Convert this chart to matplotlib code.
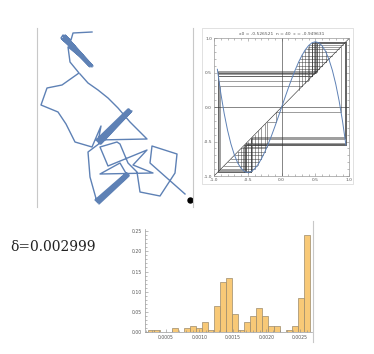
import numpy as np
import matplotlib
matplotlib.use("Agg")
import matplotlib.pyplot as plt
from matplotlib.ticker import MultipleLocator, FormatStrFormatter
from matplotlib.lines import Line2D
from matplotlib.patches import Rectangle

plt.rcParams["axes.unicode_minus"] = False

# ---------------- data ----------------
# walk (path panel); NaN splits the polyline
walk_x = [55, 36, 34, 26,
          24, 53, 26, 55, 25, 54, 28, 56, 27, 53, 29, 55, 26, 52, 28, 54,
          31, 33, 42, 25, 10, 4, 21, 29, 38, 55, 64,
          61, 93, 62, 94, 60, 92, 63, 94, 59, 91, 62, 93, 61, 92, 64, 95, 60,
          110, 93, 81, 71, 61, 51, 43, np.nan,
          67, 51, 53, 60,
          91, 61, 92, 59, 90, 62, 92, 58, 89, 61, 90,
          83, 63, 116, 96, 110, 71, 63, 80, 83, 91, 100, 103, 123, 138, 140, 115, 113, 148]
walk_y = [175, 174, 167, 172,
          169, 140, 171, 142, 168, 143, 172, 141, 170, 143, 171, 140, 169, 141, 170, 142,
          160, 145, 134, 122, 119, 102, 95, 83, 65, 60, 81,
          65, 97, 64, 96, 66, 98, 63, 95, 67, 98, 65, 96, 66, 97, 63, 96, 67,
          68, 85, 99, 109, 117, 124, 133, np.nan,
          67, 55, 30, 5,
          33, 4, 32, 6, 34, 3, 31, 7, 34, 5, 32,
          44, 33, 34, 42, 57, 41, 60, 65, 63, 44, 35, 15, 11, 34, 53, 61, 44, 13]
end_x, end_y = 153, 7

# cobweb: map title parameters and the orbit
x0_label = "x0 = -0.526521  n = 40  c = -0.949631"
curve_x = np.round(np.arange(-0.95, 0.951, 0.05), 2)
curve_left = [0.550, 0.205, -0.089, -0.334, -0.534, -0.691, -0.809, -0.889, -0.935, -0.950,
              -0.936, -0.896, -0.834, -0.752, -0.653, -0.539, -0.415, -0.281, -0.142]
curve_y = curve_left + [0.0] + [-v for v in curve_left[::-1]]

orbit = [-0.526521, -0.945555, 0.517434, 0.947878, -0.534584, -0.942661, 0.496324, 0.949555,
         -0.547006, -0.936646, 0.452938, 0.937406, -0.458374, -0.940030, 0.477252, 0.946729,
         -0.526108, -0.945681, 0.518401, 0.947678, -0.533106, -0.943248, 0.500596, 0.949631,
         -0.547568, -0.936329, 0.450677, 0.936222, -0.449911, -0.935813, 0.446993, 0.934186,
         -0.435415, -0.926886, 0.384188, 0.879112, -0.076267, -0.215591, -0.576132, -0.914928,
         0.302679]

hatch_x = [-0.65, -0.60, -0.55, -0.50, -0.45, -0.40, -0.35, -0.30, -0.25]
hatch_fx = [-0.809, -0.889, -0.935, -0.950, -0.936, -0.896, -0.834, -0.752, -0.653]
hatch_y = [-0.90, -0.85, -0.80, -0.75, -0.70, -0.65, -0.60, -0.55]
hatch_xr = [-0.403, -0.361, -0.328, -0.299, -0.273, -0.249, -0.226, -0.205]

# histogram
delta_text = "δ=0.002999"
bin_start = 0.0002365
bin_width = 0.0000893
probs = [0.005, 0.005, 0, 0, 0.01, 0, 0.01, 0.015, 0.01, 0.025, 0.005, 0.065, 0.125, 0.135,
         0.045, 0.005, 0.025, 0.04, 0.06, 0.04, 0.015, 0.015, 0, 0.005, 0.015, 0.085, 0.24]

BLUE = "#5E81B5"
W, H = 374, 354


def place(x0, y0, x1, y1):
    # pixel box -> figure fraction
    return [x0 / W, 1 - y1 / H, (x1 - x0) / W, (y1 - y0) / H]


fig = plt.figure(figsize=(W / 100, H / 100), dpi=100)

# ================= walk =================
ax1 = fig.add_axes(place(37, 28, 193, 207))
ax1.plot(walk_x, walk_y, color=BLUE, lw=1.0)
ax1.plot([end_x], [end_y], "o", color="black", ms=3.6, clip_on=False)
ax1.set_xlim(0, 156)
ax1.set_ylim(0, 179)
ax1.set_xticks([])
ax1.set_yticks([])
for s in ["top", "bottom"]:
    ax1.spines[s].set_visible(False)
for s in ["left", "right"]:
    ax1.spines[s].set_color("#c8c8c8")
    ax1.spines[s].set_linewidth(0.8)

# ================= cobweb =================
fig.add_artist(Rectangle((202 / W, 1 - 184 / H), 151 / W, 156 / H, transform=fig.transFigure,
                         fill=False, ec="#d4d4d4", lw=0.5))
ax2 = fig.add_axes(place(214, 38.3, 349.3, 176))
ax2.axhline(0, color="#555", lw=0.5)
ax2.axvline(0, color="#555", lw=0.5)
ax2.plot([-1, 1], [-1, 1], color="#222", lw=0.4)

lw_c = 0.45
web = dict(color="#333", lw=lw_c, alpha=0.75)
for x, fx in zip(hatch_x, hatch_fx):
    ax2.plot([x, x], [x, fx], **web)
    ax2.plot([-x, -x], [-x, -fx], **web)
for y, xr in zip(hatch_y, hatch_xr):
    ax2.plot([xr, y], [y, y], **web)
    ax2.plot([-xr, -y], [-y, -y], **web)

cx, cy = [orbit[0]], [orbit[0]]
for a, b in zip(orbit[:-1], orbit[1:]):
    cx += [a, b]
    cy += [b, b]
ax2.plot(cx, cy, **web)
ax2.plot(curve_x, curve_y, color=BLUE, lw=0.7)

ax2.set_xlim(-1, 1)
ax2.set_ylim(-1, 1)
ax2.set_xticks([-1, -0.5, 0, 0.5, 1])
ax2.set_yticks([-1, -0.5, 0, 0.5, 1])
ax2.xaxis.set_minor_locator(MultipleLocator(0.1))
ax2.yaxis.set_minor_locator(MultipleLocator(0.1))
ax2.xaxis.set_major_formatter(FormatStrFormatter("%.1f"))
ax2.yaxis.set_major_formatter(FormatStrFormatter("%.1f"))
ax2.tick_params(which="both", direction="in", top=True, right=True, width=0.4,
                color="#888", labelsize=3.2, labelcolor="#555", pad=1.5)
ax2.tick_params(which="major", length=2.2)
ax2.tick_params(which="minor", length=1.2)
for s in ax2.spines.values():
    s.set_color("#999")
    s.set_linewidth(0.5)
ax2.set_title(x0_label, fontsize=3.2, color="#555", pad=2.5)

# ================= delta label =================
fig.text(10 / W, 1 - 247 / H, delta_text, fontsize=10, family="DejaVu Serif",
         color="#222", va="center", ha="left")

# ================= histogram =================
ax3 = fig.add_axes(place(145, 229, 311.7, 332.3))
edges = [bin_start + i * bin_width for i in range(len(probs))]
bx = [e for e, p in zip(edges, probs) if p > 0]
bh = [p for p in probs if p > 0]
ax3.bar(bx, bh, width=bin_width, align="edge", color="#F8C977", edgecolor="#9b8a6c", lw=0.5)
ax3.set_xlim(0.000192, 0.002674)
ax3.set_ylim(0, 0.255)
ax3.xaxis.set_major_locator(MultipleLocator(0.0005))
ax3.xaxis.set_minor_locator(MultipleLocator(0.0001))
ax3.yaxis.set_major_locator(MultipleLocator(0.05))
ax3.yaxis.set_minor_locator(MultipleLocator(0.01))
ax3.xaxis.set_major_formatter(FormatStrFormatter("%.4f"))
ax3.yaxis.set_major_formatter(FormatStrFormatter("%.2f"))
ax3.tick_params(which="both", direction="in", width=0.4, color="#888",
                labelsize=3.3, labelcolor="#555", pad=2)
ax3.tick_params(which="major", length=2.2)
ax3.tick_params(which="minor", length=1.2)
for s in ["top", "right"]:
    ax3.spines[s].set_visible(False)
for s in ["left", "bottom"]:
    ax3.spines[s].set_color("#999")
    ax3.spines[s].set_linewidth(0.5)
fig.add_artist(Line2D([312.7 / W, 312.7 / W], [1 - 342 / H, 1 - 221 / H],
                      transform=fig.transFigure, color="#c8c8c8", lw=0.8))

fig.savefig("out.png", dpi=100)
